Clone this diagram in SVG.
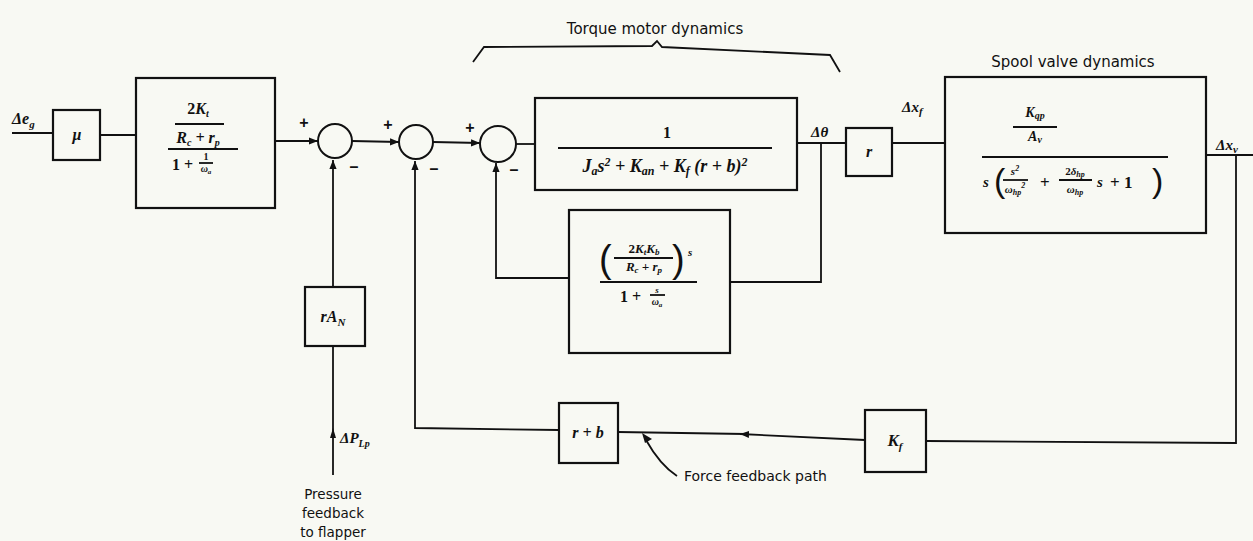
<svg xmlns="http://www.w3.org/2000/svg" width="1253" height="541" viewBox="0 0 1253 541">
<defs>
<style>
.bg{fill:#f8f9f3}
.blk{fill:none;stroke:#111;stroke-width:2.2}
.sum{fill:none;stroke:#111;stroke-width:2}
.ln{fill:none;stroke:#111;stroke-width:1.8}
.m{font-family:"Liberation Serif",serif;font-style:italic;font-weight:bold;fill:#111}
.r{font-family:"Liberation Serif",serif;font-weight:bold;fill:#111}
.s{font-family:"DejaVu Sans","Liberation Sans",sans-serif;fill:#111}
.p{font-family:"Liberation Sans",sans-serif;font-weight:300;fill:#111}
.sg{font-family:"Liberation Sans",Arial,sans-serif;font-weight:bold;fill:#111;font-size:16px}
</style>
<marker id="ah" viewBox="0 0 10 10" refX="10" refY="5" markerWidth="9" markerHeight="9" markerUnits="userSpaceOnUse" orient="auto">
<path d="M0,1 L10,5 L0,9 Z" fill="#111"/>
</marker>
</defs>
<rect class="bg" x="0" y="0" width="1253" height="541"/>

<g id="connectors">
<line class="ln" x1="12" y1="133" x2="53" y2="133"/>
<line class="ln" x1="100" y1="135" x2="136" y2="135"/>
<line class="ln" x1="275" y1="141" x2="318" y2="141" marker-end="url(#ah)"/>
<line class="ln" x1="352" y1="141" x2="399" y2="142" marker-end="url(#ah)"/>
<line class="ln" x1="433" y1="142" x2="480" y2="143" marker-end="url(#ah)"/>
<line class="ln" x1="516" y1="144" x2="535" y2="144"/>
<line class="ln" x1="797" y1="143" x2="846" y2="143"/>
<polyline class="ln" points="821,143 821,282 730,282"/>
<polyline class="ln" points="569,278 496,278 496,163" marker-end="url(#ah)"/>
<line class="ln" x1="892" y1="143" x2="945" y2="143"/>
<line class="ln" x1="1206" y1="155" x2="1253" y2="155"/>
<polyline class="ln" points="1236,155 1236,443 926,441"/>
<line class="ln" x1="865" y1="440" x2="740" y2="434" marker-end="url(#ah)"/>
<line class="ln" x1="745" y1="434" x2="618" y2="432"/>
<polyline class="ln" points="559,430 415,428 415,161" marker-end="url(#ah)"/>
<line class="ln" x1="333" y1="287" x2="333" y2="160" marker-end="url(#ah)"/>
<line class="ln" x1="333" y1="475" x2="333" y2="346"/>
<path d="M330,438 L333,428 L336,438 Z" fill="#111"/>
<path class="ln" d="M677,476 Q660,465 646,440"/>
<path d="M642,433 L652,439 L645,443 Z" fill="#111"/>
<path class="ln" d="M473,62 L484,47 L652,46 L657,41 L662,47 L830,55 L840,72"/>
</g>

<g id="labels">
<text class="m" x="12" y="124" font-size="16">Δe<tspan font-size="11" dy="4">g</tspan></text>
<text class="m" x="811" y="137" font-size="15">Δθ</text>
<text class="m" x="902" y="112" font-size="15">Δx<tspan font-size="11" dy="3">f</tspan></text>
<text class="m" x="1216" y="150" font-size="15">Δx<tspan font-size="11" dy="3">v</tspan></text>
<text class="m" x="340" y="443" font-size="15">ΔP<tspan font-size="10" dy="4">Lp</tspan></text>
<text class="s" x="333" y="499" font-size="13.5" text-anchor="middle">Pressure</text>
<text class="s" x="333" y="518" font-size="13.5" text-anchor="middle">feedback</text>
<text class="s" x="333" y="537" font-size="13.5" text-anchor="middle">to flapper</text>
<text class="s" x="684" y="481" font-size="14">Force feedback path</text>
<text class="s" x="655" y="34" font-size="15" text-anchor="middle">Torque motor dynamics</text>
<text class="s" x="1073" y="67" font-size="15" text-anchor="middle">Spool valve dynamics</text>
<text class="sg" x="304" y="128" text-anchor="middle">+</text>
<text class="sg" x="354" y="172" text-anchor="middle">–</text>
<text class="sg" x="388" y="130" text-anchor="middle">+</text>
<text class="sg" x="434" y="174" text-anchor="middle">–</text>
<text class="sg" x="470" y="133" text-anchor="middle">+</text>
<text class="sg" x="514" y="175" text-anchor="middle">–</text>
</g>

<g id="mu">
<rect class="blk" x="53" y="110" width="47" height="50"/>
<text class="m" x="77" y="140" font-size="16" text-anchor="middle">μ</text>
</g>

<g id="amp">
<rect class="blk" x="136" y="78" width="139" height="130"/>
<text class="r" x="198" y="114" font-size="16" text-anchor="middle">2<tspan class="m">K</tspan><tspan class="m" font-size="10" dy="3">t</tspan></text>
<line class="ln" x1="175" y1="124" x2="224" y2="124" stroke-width="1.4"/>
<text class="m" x="198" y="143" font-size="16" text-anchor="middle">R<tspan font-size="10" dy="3">c</tspan><tspan dy="-3"> + r</tspan><tspan font-size="10" dy="3">p</tspan></text>
<line class="ln" x1="168" y1="149" x2="238" y2="149" stroke-width="1.6"/>
<text class="r" x="172" y="170" font-size="16">1 +</text>
<text class="r" x="206" y="160" font-size="10" text-anchor="middle">1</text>
<line class="ln" x1="199" y1="163" x2="213" y2="163" stroke-width="1"/>
<text class="m" x="206" y="172" font-size="10" text-anchor="middle">ω<tspan font-size="7" dy="2">a</tspan></text>
</g>

<g id="sum1"><circle class="sum" cx="335" cy="141" r="17"/></g>
<g id="sum2"><circle class="sum" cx="416" cy="142" r="17"/></g>
<g id="sum3"><circle class="sum" cx="498" cy="144" r="18"/></g>

<g id="torque">
<rect class="blk" x="535" y="98" width="262" height="92"/>
<text class="r" x="667" y="138" font-size="16" text-anchor="middle">1</text>
<line class="ln" x1="558" y1="148" x2="772" y2="148" stroke-width="1.6"/>
<text class="m" x="665" y="172" font-size="18" text-anchor="middle">J<tspan font-size="12" dy="3">a</tspan><tspan dy="-3">s</tspan><tspan class="r" font-size="12" dy="-6">2</tspan><tspan dy="6"> + K</tspan><tspan font-size="12" dy="3">an</tspan><tspan dy="-3"> + K</tspan><tspan font-size="12" dy="3">f</tspan><tspan dy="-3"> (r + b)</tspan><tspan class="r" font-size="12" dy="-6">2</tspan></text>
</g>

<g id="damp">
<rect class="blk" x="569" y="210" width="161" height="143"/>
<text class="p" x="599" y="272" font-size="38">(</text>
<text class="p" x="672" y="272" font-size="38">)</text>
<text class="r" x="644" y="253" font-size="13" text-anchor="middle">2<tspan class="m">K</tspan><tspan class="m" font-size="9" dy="2">t</tspan><tspan class="m" dy="-2">K</tspan><tspan class="m" font-size="9" dy="2">b</tspan></text>
<line class="ln" x1="614" y1="258" x2="673" y2="258" stroke-width="1"/>
<text class="m" x="644" y="271" font-size="13" text-anchor="middle">R<tspan font-size="9" dy="2">c</tspan><tspan dy="-2"> + r</tspan><tspan font-size="9" dy="2">p</tspan></text>
<text class="m" x="688" y="256" font-size="11">s</text>
<line class="ln" x1="600" y1="282" x2="697" y2="282" stroke-width="1.4"/>
<text class="r" x="620" y="302" font-size="16">1 +</text>
<text class="m" x="657" y="293" font-size="9" text-anchor="middle">s</text>
<line class="ln" x1="650" y1="295" x2="665" y2="295" stroke-width="1"/>
<text class="m" x="657" y="305" font-size="10" text-anchor="middle">ω<tspan font-size="7" dy="2">a</tspan></text>
</g>

<g id="rgain">
<rect class="blk" x="846" y="128" width="46" height="48"/>
<text class="m" x="869" y="157" font-size="16" text-anchor="middle">r</text>
</g>

<g id="spool">
<rect class="blk" x="945" y="77" width="261" height="156"/>
<text class="m" x="1035" y="117" font-size="14" text-anchor="middle">K<tspan font-size="10" dy="2">qp</tspan></text>
<line class="ln" x1="1013" y1="127" x2="1057" y2="127" stroke-width="1.2"/>
<text class="m" x="1035" y="141" font-size="14" text-anchor="middle">A<tspan font-size="10" dy="2">v</tspan></text>
<line class="ln" x1="982" y1="157" x2="1168" y2="157" stroke-width="1.5"/>
<text class="m" x="983" y="187" font-size="15">s</text>
<text class="p" x="994" y="192" font-size="34">(</text>
<text class="m" x="1015" y="175" font-size="11" text-anchor="middle">s<tspan class="r" font-size="8" dy="-4">2</tspan></text>
<line class="ln" x1="1003" y1="180" x2="1028" y2="180" stroke-width="1"/>
<text class="m" x="1015" y="193" font-size="11" text-anchor="middle">ω<tspan font-size="8" dy="2">hp</tspan><tspan class="r" font-size="8" dy="-7">2</tspan></text>
<text class="r" x="1040" y="188" font-size="17">+</text>
<text class="r" x="1075" y="175" font-size="11" text-anchor="middle">2<tspan class="m">δ</tspan><tspan class="m" font-size="8" dy="2">hp</tspan></text>
<line class="ln" x1="1059" y1="180" x2="1092" y2="180" stroke-width="1"/>
<text class="m" x="1075" y="193" font-size="11" text-anchor="middle">ω<tspan font-size="8" dy="2">hp</tspan></text>
<text class="m" x="1097" y="187" font-size="15">s</text>
<text class="r" x="1110" y="188" font-size="17">+ 1</text>
<text class="p" x="1152" y="192" font-size="34">)</text>
</g>

<g id="kf">
<rect class="blk" x="865" y="410" width="61" height="62"/>
<text class="m" x="895" y="446" font-size="17" text-anchor="middle">K<tspan font-size="11" dy="4">f</tspan></text>
</g>

<g id="rb">
<rect class="blk" x="559" y="403" width="59" height="60"/>
<text class="m" x="588" y="438" font-size="16" text-anchor="middle">r + b</text>
</g>

<g id="ran">
<rect class="blk" x="305" y="287" width="60" height="59"/>
<text class="m" x="333" y="322" font-size="16" text-anchor="middle">rA<tspan font-size="11" dy="4">N</tspan></text>
</g>
</svg>
